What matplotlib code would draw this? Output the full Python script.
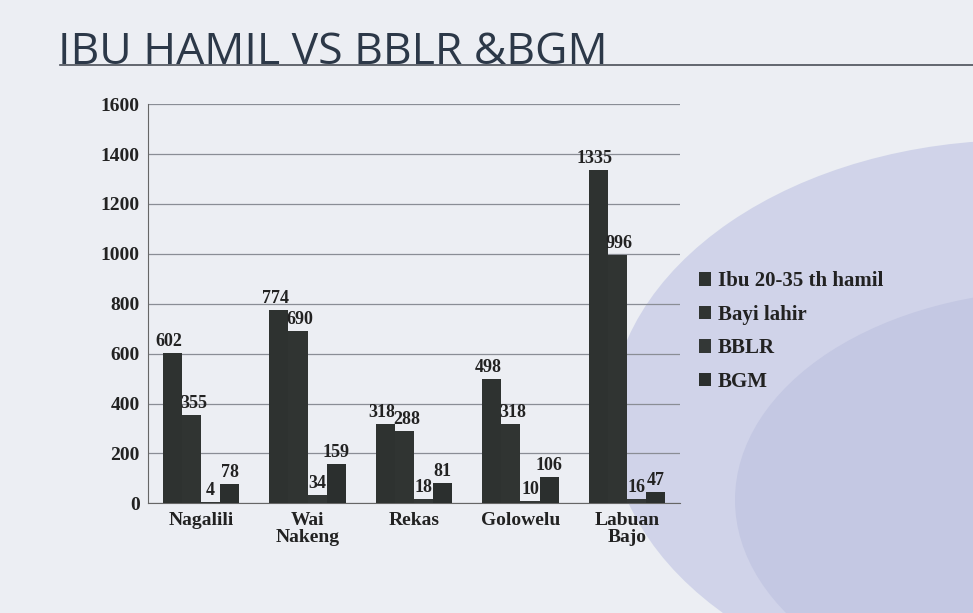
import matplotlib
matplotlib.use("Agg")
import matplotlib.pyplot as plt
import numpy as np
from matplotlib.patches import Ellipse

categories = ["Nagalili", "Wai\nNakeng", "Rekas", "Golowelu", "Labuan\nBajo"]
series_names = ["Ibu 20-35 th hamil", "Bayi lahir", "BBLR", "BGM"]
ibu_hamil = [602, 774, 318, 498, 1335]
bayi_lahir = [355, 690, 288, 318, 996]
bblr = [4, 34, 18, 10, 16]
bgm = [78, 159, 81, 106, 47]
yticks = [0, 200, 400, 600, 800, 1000, 1200, 1400, 1600]

series = [ibu_hamil, bayi_lahir, bblr, bgm]
colors = ["#2e3230", "#303432", "#333736", "#2b2f2e"]

fig = plt.figure(figsize=(9.73, 6.13), dpi=100)
fig.patch.set_facecolor("#eceef3")

bg = fig.add_axes([0, 0, 1, 1])
bg.set_xlim(0, 973)
bg.set_ylim(613, 0)
bg.axis("off")
bg.add_patch(Ellipse((1020, 420), 820, 560, facecolor="#cdd1e8", edgecolor="none", alpha=0.9))
bg.add_patch(Ellipse((1060, 500), 650, 420, facecolor="#bcc1df", edgecolor="none", alpha=0.6))
bg.plot([60, 973], [65, 65], color="#4a4f58", lw=1.2, zorder=1)
bg.text(58, 64, "IBU HAMIL VS BBLR &BGM", fontsize=32, color="#2c3848",
        family="Open Sans", ha="left", va="baseline", zorder=2)

ax = fig.add_axes([0.152, 0.179, 0.547, 0.651])
ax.patch.set_alpha(0)
x = np.arange(len(categories))
w = 0.18
offsets = [-0.03, 0.02, 0.0, 0.0]
for i, (vals, name) in enumerate(zip(series, series_names)):
    pos = x + (i - 1.5) * w
    ax.bar(pos, vals, width=w, color=colors[i], label=name, zorder=3)
    for p, v in zip(pos, vals):
        ax.text(p + offsets[i], v + 12, str(v), ha="center", va="bottom", fontsize=13,
                family="Liberation Serif", fontweight="bold", color="#222222", zorder=4)

ax.set_ylim(0, 1600)
ax.set_xlim(-0.5, len(categories) - 0.5)
ax.set_yticks(yticks)
ax.set_yticklabels([str(t) for t in yticks], family="Liberation Serif",
                   fontweight="bold", fontsize=14, color="#222222")
ax.set_xticks(x)
ax.set_xticklabels(categories, family="Liberation Serif", fontweight="bold",
                   fontsize=14, color="#222222", linespacing=1.0)
ax.grid(axis="y", color="#8a8d95", lw=0.9, zorder=0)
for s in ["top", "right"]:
    ax.spines[s].set_visible(False)
ax.spines["left"].set_color("#666666")
ax.spines["bottom"].set_color("#666666")
ax.tick_params(axis="both", length=0, pad=6)

leg = ax.legend(loc="center left", bbox_to_anchor=(1.0, 0.43), frameon=False,
                prop={"family": "Liberation Serif", "weight": "bold", "size": 15},
                handlelength=0.6, handleheight=0.6, handletextpad=0.3, labelspacing=0.65)
for t in leg.get_texts():
    t.set_color("#222222")

fig.savefig("out.png", dpi=100, facecolor=fig.get_facecolor())
